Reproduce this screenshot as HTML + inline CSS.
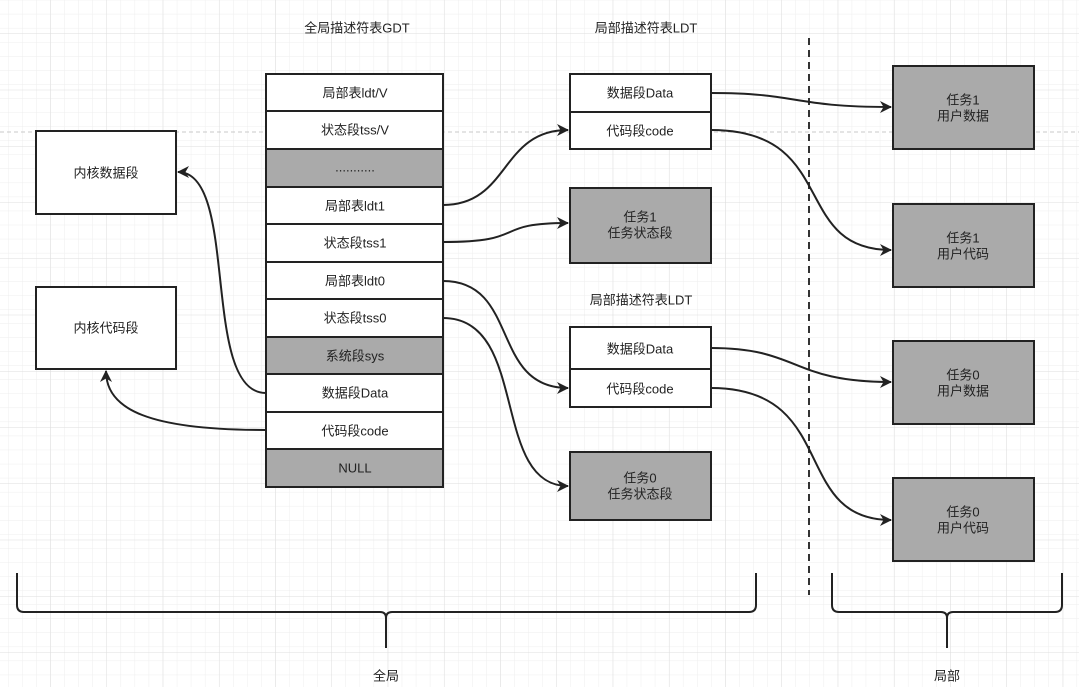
<!DOCTYPE html>
<html><head><meta charset="utf-8"><style>
html,body{margin:0;padding:0;background:#fff}
svg{display:block}
text{font-family:"Liberation Sans","Noto Sans CJK SC",sans-serif;font-size:13px;fill:#222;text-anchor:middle;dominant-baseline:central}
</style></head><body>
<svg width="1079" height="687" viewBox="0 0 1079 687" xmlns="http://www.w3.org/2000/svg">
<defs>
<pattern id="mi" width="14.06" height="14.06" patternUnits="userSpaceOnUse" x="-6" y="-0.2">
<path d="M0 0H14.06M0 0V14.06" stroke="#eeeeee" stroke-width="1" fill="none"/></pattern>
<pattern id="ma" width="56.25" height="56.25" patternUnits="userSpaceOnUse" x="-6" y="33.5">
<path d="M0 0H56.25M0 0V56.25" stroke="#dedede" stroke-width="1" fill="none"/></pattern>
<marker id="ar" markerWidth="12" markerHeight="12" refX="11" refY="6" orient="auto" markerUnits="userSpaceOnUse">
<path d="M0,0 L12,6 L0,12 L3.5,6 Z" fill="#222"/></marker>
</defs>
<rect width="1079" height="687" fill="url(#mi)"/>
<rect width="1079" height="687" fill="url(#ma)"/>
<line x1="0" y1="132" x2="1079" y2="132" stroke="#c8c8c8" stroke-dasharray="4,3"/>
<line x1="809" y1="38" x2="809" y2="595" stroke="#333" stroke-width="2" stroke-dasharray="7,5"/>

<text x="357" y="28">全局描述符表GDT</text>
<text x="646" y="28">局部描述符表LDT</text>
<text x="641" y="300">局部描述符表LDT</text>

<g stroke="#222" stroke-width="2">
<rect x="36" y="131" width="140" height="83" fill="#fff"/>
<rect x="36" y="287" width="140" height="82" fill="#fff"/>
<rect x="266" y="74" width="177" height="413" fill="#fff"/>
<rect x="266" y="149" width="177" height="38" fill="#aaa"/>
<rect x="266" y="337" width="177" height="37" fill="#aaa"/>
<rect x="266" y="449" width="177" height="38" fill="#aaa"/>
<path d="M266 111H443M266 224H443M266 262H443M266 299H443M266 412H443" fill="none"/>
<rect x="570" y="74" width="141" height="75" fill="#fff"/>
<path d="M570 112H711"/>
<rect x="570" y="188" width="141" height="75" fill="#aaa"/>
<rect x="570" y="327" width="141" height="80" fill="#fff"/>
<path d="M570 369H711"/>
<rect x="570" y="452" width="141" height="68" fill="#aaa"/>
<rect x="893" y="66" width="141" height="83" fill="#aaa"/>
<rect x="893" y="204" width="141" height="83" fill="#aaa"/>
<rect x="893" y="341" width="141" height="83" fill="#aaa"/>
<rect x="893" y="478" width="141" height="83" fill="#aaa"/>
</g>

<text x="106" y="173">内核数据段</text>
<text x="106" y="328">内核代码段</text>
<text x="355" y="93">局部表ldt/V</text>
<text x="355" y="130">状态段tss/V</text>
<text x="355" y="167">...........</text>
<text x="355" y="206">局部表ldt1</text>
<text x="355" y="243">状态段tss1</text>
<text x="355" y="281">局部表ldt0</text>
<text x="355" y="318">状态段tss0</text>
<text x="355" y="356">系统段sys</text>
<text x="355" y="393">数据段Data</text>
<text x="355" y="431">代码段code</text>
<text x="355" y="468">NULL</text>
<text x="640" y="93">数据段Data</text>
<text x="640" y="131">代码段code</text>
<text x="640" y="217">任务1</text><text x="640" y="233">任务状态段</text>
<text x="640" y="349">数据段Data</text>
<text x="640" y="389">代码段code</text>
<text x="640" y="478">任务0</text><text x="640" y="494">任务状态段</text>
<text x="963" y="100">任务1</text><text x="963" y="116">用户数据</text>
<text x="963" y="238">任务1</text><text x="963" y="254">用户代码</text>
<text x="963" y="375">任务0</text><text x="963" y="391">用户数据</text>
<text x="963" y="512">任务0</text><text x="963" y="528">用户代码</text>
<text x="386" y="676">全局</text>
<text x="947" y="676">局部</text>

<g stroke="#222" stroke-width="2" fill="none" marker-end="url(#ar)">
<path d="M443 205C510 205 500 130 568 130"/>
<path d="M443 242C530 242 490 223 568 223"/>
<path d="M443 281C520 281 490 388 568 388"/>
<path d="M443 318C530 318 490 486 568 486"/>
<path d="M711 93C800 93 790 107 891 107"/>
<path d="M711 130C840 130 790 250 891 250"/>
<path d="M711 348C800 348 790 382 891 382"/>
<path d="M711 388C840 388 790 520 891 520"/>
<path d="M266 393C200 393 240 172 178 172"/>
<path d="M266 430C150 430 106 410 106 371"/>
</g>
<g stroke="#222" stroke-width="2" fill="none">
<path d="M17 573V605Q17 612 24 612H380Q386 612 386 618Q386 612 392 612H749Q756 612 756 605V573M386 618V648"/>
<path d="M832 573V605Q832 612 839 612H941Q947 612 947 618Q947 612 953 612H1055Q1062 612 1062 605V573M947 618V648"/>
</g>
</svg>
</body></html>
